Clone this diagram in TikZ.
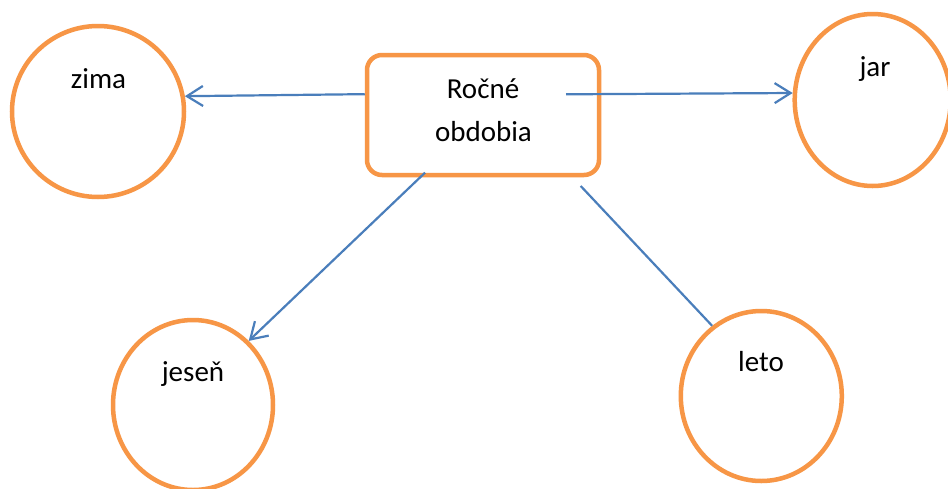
\documentclass[tikz,border=0pt]{standalone}
\usepackage{fontspec}
\setmainfont{Carlito}
\usetikzlibrary{shapes.geometric,arrows.meta,calc}
\definecolor{ringorange}{HTML}{F79646}
\definecolor{linkblue}{HTML}{4A7EBB}
\begin{document}
\begin{tikzpicture}[x=1pt,y=-1pt,
  season/.style n args={2}{ellipse, draw=ringorange, line width=4.5pt,
    inner sep=0pt, minimum width=#1, minimum height=#2},
  hub/.style={rectangle, rounded corners=15pt, draw=ringorange, line width=4.5pt,
    inner sep=0pt, minimum width=232pt, minimum height=120pt},
  lbl/.style={anchor=base, inner sep=0pt, font=\fontsize{29}{35}\selectfont},
  link/.style={draw=linkblue, line width=2.2pt},
  arr/.style={link, -{Straight Barb[length=16pt, width=20pt]}}]

  % page area
  \path[use as bounding box, fill=white] (0,0) rectangle (948,488);

  % central box
  \node[hub] (box) at (483,115) {};
  \node[lbl] (rocne) at (483,98.3) {Ročné};
  \node[lbl] (obd) at (483.5,141.7) {obdobia};

  % the four seasons
  \node[season={172pt}{171pt}] (zima) at (98,111.5) {};
  \node[lbl] (tzima) at (98.5,88.3) {zima};

  \node[season={156pt}{172pt}] (jar) at (872.7,100) {};
  \node[lbl] (tjar) at (875,76) {jar};

  \node[season={160pt}{170pt}] (jesen) at (193,405) {};
  \node[lbl] (tjesen) at (193,381.7) {jeseň};

  \node[season={161pt}{170pt}] (leto) at (761.3,396) {};
  \node[lbl] (tleto) at (761,371.7) {leto};

  % connectors
  \draw[arr] (box.170) -- (zima.10);
  \draw[arr] ($(box.center)+(83,-20.7)$) -- (jar.175);
  \draw[arr] ($(box.center)+(-58,57.7)$) -- (jesen.49);
  \draw[link] ($(box.center)+(97.7,71)$) -- (leto.125);
\end{tikzpicture}
\end{document}
